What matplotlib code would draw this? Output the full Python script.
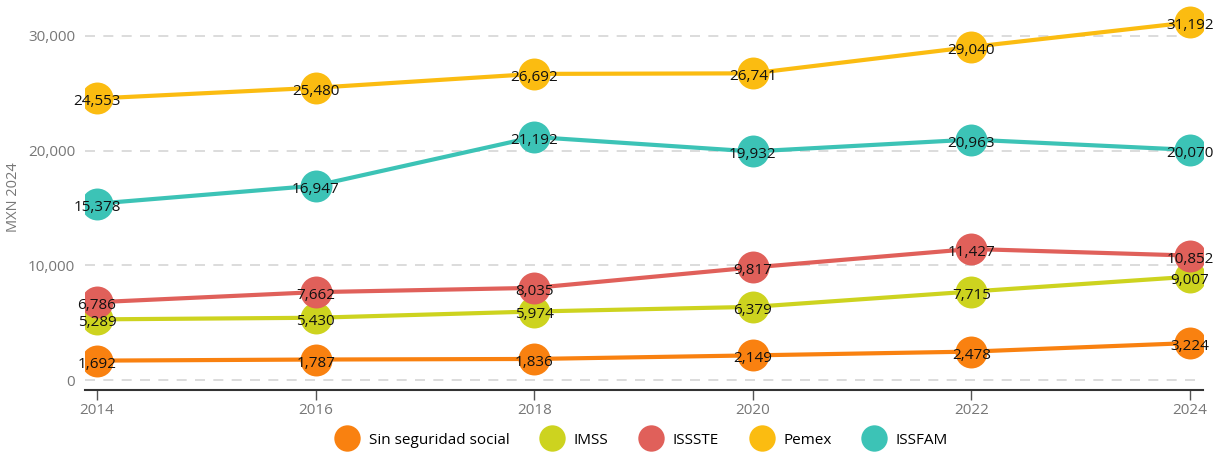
import matplotlib
matplotlib.use("Agg")
import matplotlib.pyplot as plt
from matplotlib.lines import Line2D

years = [2014, 2016, 2018, 2020, 2022, 2024]
series_names = ["Sin seguridad social", "IMSS", "ISSSTE", "Pemex", "ISSFAM"]
sin_seguridad = [1692, 1787, 1836, 2149, 2478, 3224]
imss = [5289, 5430, 5974, 6379, 7715, 9007]
issste = [6786, 7662, 8035, 9817, 11427, 10852]
pemex = [24553, 25480, 26692, 26741, 29040, 31192]
issfam = [15378, 16947, 21192, 19932, 20963, 20070]
colors = ["#F98110", "#CDD31F", "#E0605A", "#FBBC11", "#3CC3B6"]
y_ticks = [0, 10000, 20000, 30000]

plt.rcParams['font.family'] = ['Open Sans', 'DejaVu Sans']

fig = plt.figure(figsize=(12.24, 4.58), dpi=100)
ax = fig.add_axes([85/1224, 1-390/458, (1203-85)/1224, (390-5)/458])

all_series = [sin_seguridad, imss, issste, pemex, issfam]
for vals, c in zip(all_series, colors):
    ax.plot(years, vals, color=c, lw=3, zorder=3, solid_capstyle='round')
    ax.plot(years, vals, 'o', color=c, ms=23, mec='none', zorder=4)
for vals in all_series:
    for x, v in zip(years, vals):
        ax.annotate(f"{v:,}", (x, v), xytext=(0, -2.5), textcoords='offset points',
                    ha='center', va='center', fontsize=11, color='#111111', zorder=5)

ax.set_xlim(2013.89, 2024.12)
ax.set_ylim(-870, 32700)
ax.set_yticks(y_ticks)
ax.set_yticklabels([f"{t:,}" for t in y_ticks])
ax.set_xticks(years)
ax.set_xticklabels([str(y) for y in years])
ax.grid(axis='y', color='#D5D5D5', ls=(0, (6, 5)), lw=1.2)
ax.set_axisbelow(True)
for s in ['top', 'right', 'left']:
    ax.spines[s].set_visible(False)
ax.spines['bottom'].set_color('#333333')
ax.spines['bottom'].set_linewidth(1.5)
ax.tick_params(axis='y', length=0, labelsize=11, labelcolor='#777777', pad=7)
ax.tick_params(axis='x', length=7, width=1, color='#555555', labelsize=11, labelcolor='#777777', pad=2)
ax.set_ylabel("MXN 2024", color='#777777', fontsize=10.5, labelpad=5)

handles = [Line2D([], [], marker='o', ls='none', color=c, ms=19, mec='none') for c in colors]
fig.legend(handles, series_names, loc='center', bbox_to_anchor=(640/1224, 1-440/458),
           ncol=5, frameon=False, fontsize=11, handletextpad=0.4, columnspacing=1.8)

fig.savefig("out.png", dpi=100)
